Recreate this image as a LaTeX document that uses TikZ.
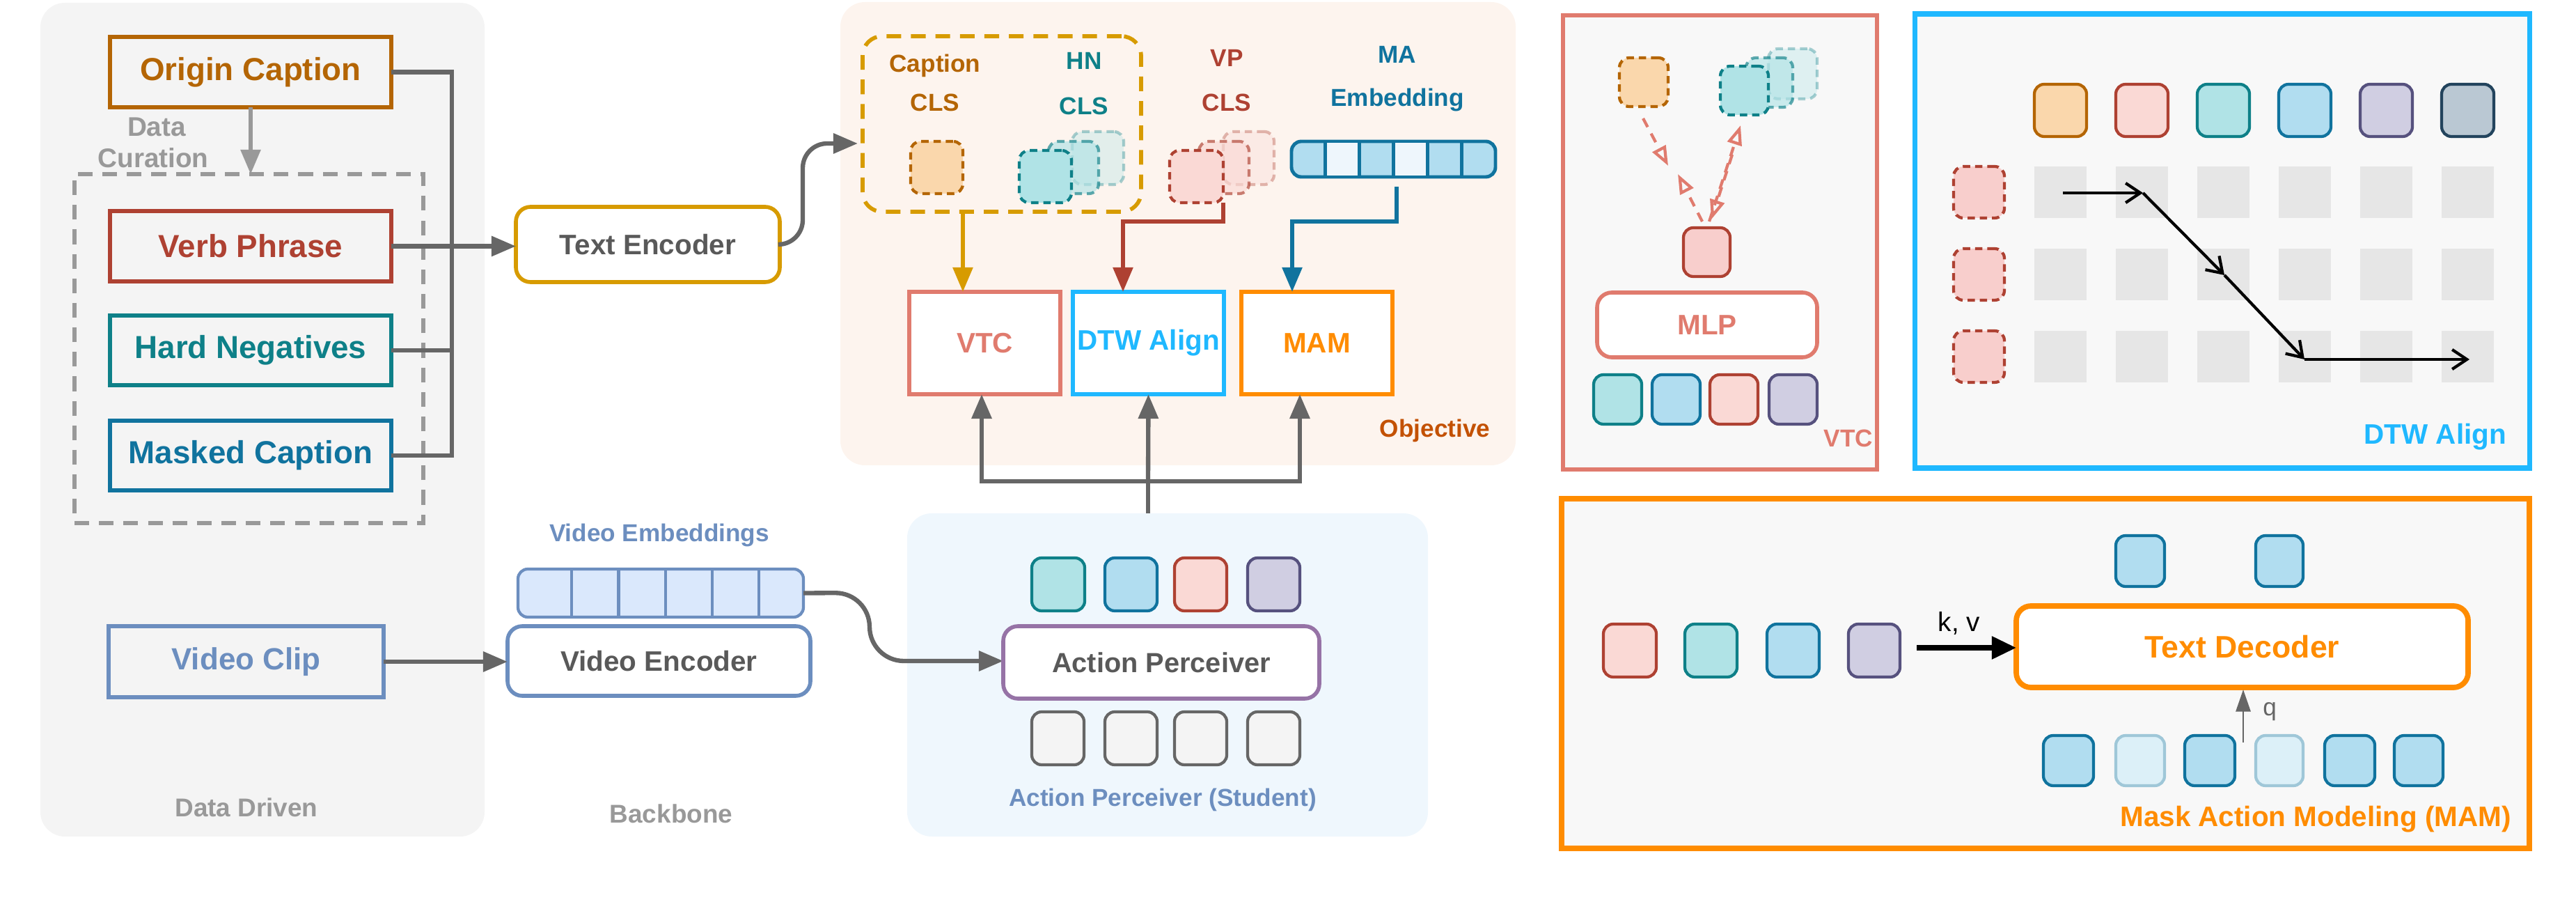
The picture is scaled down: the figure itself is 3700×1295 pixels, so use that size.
\documentclass[tikz,border=0pt]{standalone}
\usepackage{fontspec}
\setmainfont{Liberation Sans}
\usetikzlibrary{arrows.meta}
\definecolor{gl}{HTML}{666666}
\definecolor{lgr}{HTML}{999999}
\definecolor{txg}{HTML}{595959}
\definecolor{pnl}{HTML}{F4F4F4}
\definecolor{objf}{HTML}{FDF4EE}
\definecolor{apf}{HTML}{EFF7FD}
\definecolor{rpf}{HTML}{F8F8F8}
\definecolor{brn}{HTML}{B46504}
\definecolor{rd}{HTML}{AE4132}
\definecolor{tl}{HTML}{0E8088}
\definecolor{bl}{HTML}{10739E}
\definecolor{vid}{HTML}{6C8EBF}
\definecolor{vidf}{HTML}{DAE8FC}
\definecolor{ylw}{HTML}{D79B00}
\definecolor{sal}{HTML}{E07B6E}
\definecolor{dtw}{HTML}{1FB8FF}
\definecolor{org}{HTML}{FF8C00}
\definecolor{pur}{HTML}{9673A6}
\definecolor{pu}{HTML}{56517E}
\definecolor{sl}{HTML}{23445D}
\definecolor{brnF}{HTML}{FAD7AC}
\definecolor{rdF}{HTML}{FAD9D5}
\definecolor{rdF2}{HTML}{F8CECC}
\definecolor{tlF}{HTML}{B0E3E6}
\definecolor{blF}{HTML}{B1DDF0}
\definecolor{blL}{HTML}{EEF6FC}
\definecolor{puF}{HTML}{D0CEE2}
\definecolor{slF}{HTML}{BAC8D3}
\definecolor{cell}{HTML}{E6E6E6}
\newcommand\bx[7]{\node[#6, minimum width={((#4)-(#2))*0.01cm}, minimum height={((#5)-(#3))*0.01cm}] (#1) at ({((#2)+(#4))/2},{((#3)+(#5))/2}) {#7};}
\tikzset{
  every node/.style={inner sep=0pt, outer sep=0pt, font=\bfseries},
  sq/.style={draw, line width=1.6pt},
  rnd/.style={draw, line width=1.6pt, rounded corners=6pt},
  tok/.style={draw, line width=1.2pt, rounded corners=4pt},
  dtok/.style={draw, line width=1.2pt, rounded corners=4pt, dash pattern=on 3pt off 2pt},
  gline/.style={draw=gl, line width=1.8pt},
  garr/.style={gline, -{Triangle[length=10pt,width=8pt]}},
  carr/.style={line width=1.6pt, -{Triangle[length=10pt,width=8pt]}},
  dsh/.style={draw=sal, line width=1.2pt, dash pattern=on 4pt off 3pt, -{Triangle[open,length=8pt,width=6pt]}},
  barr/.style={line width=1.2pt, -{Straight Barb[length=6pt,width=8pt]}},
  big/.style={font=\bfseries\fontsize{13}{15}\selectfont},
  mid/.style={font=\bfseries\fontsize{11.5}{14}\selectfont},
  sm/.style={font=\bfseries\fontsize{10}{12}\selectfont},
}
\begin{document}
\begin{tikzpicture}[x=0.01cm,y=-0.01cm]
\useasboundingbox (0,0) rectangle (3700,1295);
% panels
\bx{ddp}{58}{4}{696}{1201}{fill=pnl, rounded corners=10pt}{}
\bx{objp}{1207}{3}{2177}{668}{fill=objf, rounded corners=10pt}{}
\bx{app}{1303}{737}{2051}{1201}{fill=apf, rounded corners=10pt}{}
\bx{vtcp}{2245}{22}{2696}{674}{draw=sal, fill=rpf, line width=1.6pt}{}
\bx{dtwp}{2750}{20}{3633}{672}{draw=dtw, fill=rpf, line width=2pt}{}
\bx{mamp}{2243}{716}{3633}{1218}{draw=org, fill=rpf, line width=2.2pt}{}
% data driven
\bx{dbox}{107}{250}{608}{751}{draw=lgr, line width=1.6pt, dash pattern=on 6pt off 4pt}{}
\bx{oc}{158}{53}{562}{154}{sq, draw=brn, text=brn, big}{Origin Caption}
\bx{vp}{158}{303}{562}{404}{sq, draw=rd, text=rd, big}{Verb Phrase}
\bx{hn}{158}{453}{562}{553}{sq, draw=tl, text=tl, big}{Hard Negatives}
\bx{mc}{158}{604}{562}{704}{sq, draw=bl, text=bl, big}{Masked Caption}
\bx{vc}{156}{899}{551}{1001}{sq, draw=vid, text=vid, font=\bfseries\fontsize{12.5}{15}\selectfont}{Video Clip}
\node[text=lgr, align=left, font=\bfseries\fontsize{11}{13}\selectfont] (dcl) at (220,205) {\hspace*{1.1em}Data\\Curation};
\node[text=lgr, font=\bfseries\fontsize{10.5}{12}\selectfont] (ddl) at (354,1159) {Data Driven};
\node[text=lgr, font=\bfseries\fontsize{10.5}{12}\selectfont] (bbl) at (964,1168) {Backbone};
\draw[draw=lgr, line width=1.6pt, -{Triangle[length=10pt,width=8pt]}] (oc.south) -- (oc.south |- dbox.north);
% encoders
\bx{te}{741}{297}{1120}{405}{rnd, draw=ylw, fill=white, text=txg, mid}{Text Encoder}
\bx{ve}{729}{899}{1164}{999}{rnd, draw=vid, fill=white, text=txg, mid}{Video Encoder}
\bx{ves}{744}{817}{1154}{886}{draw=vid, fill=vidf, line width=1.2pt, rounded corners=4pt}{}
\foreach \i in {1,...,5}{\draw[vid, line width=1.2pt] ({744+\i*410/6.1+10},817) -- ({744+\i*410/6.1+10},886);}
\node[text=vid, sm] (vel) at (947,768) {Video Embeddings};
% bus
\draw[gline] (oc.east) -- (649,103.5) -- (649,654) -- (mc.east);
\draw[gline] (hn.east) -- (649,503);
\draw[garr] (vp.east) -- (te.west |- vp.east);
\draw[garr] (vc.east) -- (ve.west |- vc.east);
\draw[garr, rounded corners=10pt] (te.east) -- (1153,351) -- (1153,206) -- (1232,206);
\draw[garr, rounded corners=14pt] (ves.east) -- (1249,851) -- (1249,949) -- (1441,949);
% objective
\bx{cb}{1239}{52}{1639}{304}{draw=ylw, line width=1.6pt, dash pattern=on 6pt off 4pt, rounded corners=8pt}{}
\node[text=brn, sm] (capl) at (1343,94) {Caption};
\node[text=brn, sm] (capc) at (1343,147) {CLS};
\node[text=tl, sm] (hnl) at (1557,87) {HN};
\node[text=tl, sm] (hnc) at (1557,152) {CLS};
\node[text=rd, sm] (vpl) at (1762,83) {VP};
\node[text=rd, sm] (vpc) at (1762,147) {CLS};
\node[text=bl, sm] (mal) at (2007,78) {MA};
\node[text=bl, sm] (mae) at (2007,143) {Embedding};
\bx{cct}{1308}{203}{1383}{278}{dtok, draw=brn, fill=brnF}{}
\bx{hnb}{1540}{189}{1614}{265}{dtok, draw=tl, fill=tlF, opacity=0.35}{}
\bx{hnm}{1506}{203}{1578}{278}{dtok, draw=tl, fill=tlF, opacity=0.65}{}
\bx{hnf}{1464}{216}{1539}{291}{dtok, draw=tl, fill=tlF}{}
\bx{vpb}{1757}{189}{1830}{265}{dtok, draw=rd, fill=rdF, opacity=0.35}{}
\bx{vpm}{1722}{203}{1794}{278}{dtok, draw=rd, fill=rdF, opacity=0.65}{}
\bx{vpf}{1680}{216}{1757}{291}{dtok, draw=rd, fill=rdF}{}
\bx{mas}{1855}{203}{2148}{254}{draw=bl, line width=1.4pt, fill=blF, rounded corners=4pt}{}
\foreach \i/\c in {1/blL,3/blL}{\fill[\c] ({1855+\i*293/6+1},205) rectangle ({1855+(\i+1)*293/6-1},252);}
\foreach \i in {1,...,5}{\draw[bl, line width=1.4pt] ({1855+\i*293/6},203) -- ({1855+\i*293/6},254);}
\bx{vtc}{1306}{419}{1523}{566}{sq, draw=sal, fill=white, text=sal, mid}{VTC}
\bx{dtwb}{1541}{419}{1758}{566}{sq, draw=dtw, fill=white, text=dtw, mid}{DTW Align}
\bx{mam}{1783}{419}{2000}{566}{sq, draw=org, fill=white, text=org, mid}{MAM}
\node[text=brn!80!red, sm] (objl) at (2061,618) {Objective};
\draw[carr, draw=ylw] ([xshift=-0.56cm]cb.south) -- ([xshift=-0.56cm]cb.south |- vtc.north);
\draw[carr, draw=rd] (vpf.south east) -- (1757,318) -| ([xshift=-0.365cm]dtwb.north);
\draw[carr, draw=bl] (2006,268) -- (2006,318) -| ([xshift=-0.355cm]mam.north);
\coordinate (hub) at (1649,691);
\draw[gline] (app.north -| hub) -- (hub);
\draw[garr] (hub) -| ([xshift=-0.045cm]vtc.south);
\draw[garr] (hub) -- (dtwb.south);
\draw[garr] (hub) -| ([xshift=-0.245cm]mam.south);
% action perceiver
\bx{t1}{1482}{801}{1558}{877}{tok, draw=tl, fill=tlF}{}
\bx{t2}{1587}{801}{1662}{877}{tok, draw=bl, fill=blF}{}
\bx{t3}{1687}{801}{1762}{877}{tok, draw=rd, fill=rdF}{}
\bx{t4}{1792}{801}{1867}{877}{tok, draw=pu, fill=puF}{}
\bx{ap}{1441}{899}{1895}{1003}{rnd, draw=pur, fill=white, text=txg, font=\bfseries\fontsize{11.3}{14}\selectfont}{Action Perceiver}
\foreach \n/\x in {b1/1482,b2/1587,b3/1687,b4/1792}{\bx{\n}{\x}{1022}{\x+75}{1098}{tok, draw=gl, fill=pnl}{}}
\node[text=vid, sm] (apl) at (1670,1148) {Action Perceiver (Student)};
% VTC panel
\bx{vc1}{2326}{83}{2396}{153}{dtok, draw=brn, fill=brnF}{}
\bx{vhb}{2540}{70}{2610}{142}{dtok, draw=tl, fill=tlF, opacity=0.35}{}
\bx{vhm}{2508}{83}{2575}{154}{dtok, draw=tl, fill=tlF, opacity=0.65}{}
\bx{vhf}{2471}{95}{2540}{165}{dtok, draw=tl, fill=tlF}{}
\bx{vt}{2418}{327}{2485}{397}{tok, draw=rd, fill=rdF2}{}
\draw[dsh] (2360,170) -- (2396,238);
\draw[dsh] (2445,318) -- (2410,250);
\draw[dsh] (2455,318) -- (2500,180);
\draw[dsh] (2488,222) -- (2458,315);
\bx{mlp}{2294}{420}{2610}{513}{rnd, draw=sal, fill=white, text=sal, mid}{MLP}
\bx{v1}{2289}{538}{2358}{609}{tok, draw=tl, fill=tlF}{}
\bx{v2}{2373}{538}{2442}{609}{tok, draw=bl, fill=blF}{}
\bx{v3}{2456}{538}{2525}{609}{tok, draw=rd, fill=rdF}{}
\bx{v4}{2541}{538}{2610}{609}{tok, draw=pu, fill=puF}{}
\node[text=sal, sm, anchor=east] (vtcl) at (2690,629) {VTC};
% DTW panel
\foreach \n/\c/\f [count=\i from 0] in {d1/brn/brnF,d2/rd/rdF,d3/tl/tlF,d4/bl/blF,d5/pu/puF,d6/sl/slF}{
  \bx{\n}{2922+\i*117}{121}{2997+\i*117}{196}{tok, draw=\c, fill=\f}{}
  \foreach \y in {239,357,475}{\fill[cell] ({2922+\i*117},\y) rectangle ({2997+\i*117},\y+74);}
}
\foreach \n/\y in {l1/239,l2/357,l3/475}{\bx{\n}{2806}{\y}{2879}{\y+74}{dtok, draw=rd, fill=rdF2}{}}
\coordinate (p0) at (2963,277);
\coordinate (p1) at (3078,277);
\coordinate (p2) at (3195,395);
\coordinate (p3) at (3310,516);
\coordinate (p4) at (3547,516);
\draw[barr] (p0) -- (p1);
\draw[barr] (p1) -- (p2);
\draw[barr] (p2) -- (p3);
\draw[barr] (p3) -- (p4);
\node[text=dtw, mid, anchor=east] (dtwl) at (3600,627) {DTW Align};
% MAM panel
\bx{m1}{2303}{896}{2379}{972}{tok, draw=rd, fill=rdF}{}
\bx{m2}{2420}{896}{2495}{972}{tok, draw=tl, fill=tlF}{}
\bx{m3}{2538}{896}{2613}{972}{tok, draw=bl, fill=blF}{}
\bx{m4}{2655}{896}{2729}{972}{tok, draw=pu, fill=puF}{}
\bx{td}{2896}{870}{3545}{987}{rnd, draw=org, line width=2.2pt, fill=white, text=org, font=\bfseries\fontsize{12.7}{15}\selectfont}{Text Decoder}
\draw[line width=2pt, -{Triangle[length=10pt,width=9pt]}] (2753,930) -- (td.west |- 0,930);
\node[font=\fontsize{11}{13}\selectfont] (kv) at (2814,895) {k, v};
\bx{o1}{3039}{769}{3109}{842}{tok, draw=bl, fill=blF}{}
\bx{o2}{3240}{769}{3308}{842}{tok, draw=bl, fill=blF}{}
\bx{q1}{2935}{1056}{3007}{1128}{tok, draw=bl, fill=blF}{}
\bx{q2}{3039}{1056}{3109}{1128}{tok, draw=bl!40, fill=blF!45}{}
\bx{q3}{3138}{1056}{3210}{1128}{tok, draw=bl, fill=blF}{}
\bx{q4}{3240}{1056}{3308}{1128}{tok, draw=bl!40, fill=blF!45}{}
\bx{q5}{3339}{1056}{3411}{1128}{tok, draw=bl, fill=blF}{}
\bx{q6}{3439}{1056}{3509}{1128}{tok, draw=bl, fill=blF}{}
\draw[draw=gl, line width=0.8pt, -{Triangle[length=9pt,width=6pt]}] (3222,1066) -- (3222,990);
\node[text=gl, font=\fontsize{10}{12}\selectfont] (ql) at (3260,1022) {q};
\node[text=org, font=\bfseries\fontsize{11.5}{14}\selectfont, anchor=east] (maml) at (3607,1176) {Mask Action Modeling (MAM)};
\end{tikzpicture}
\end{document}
